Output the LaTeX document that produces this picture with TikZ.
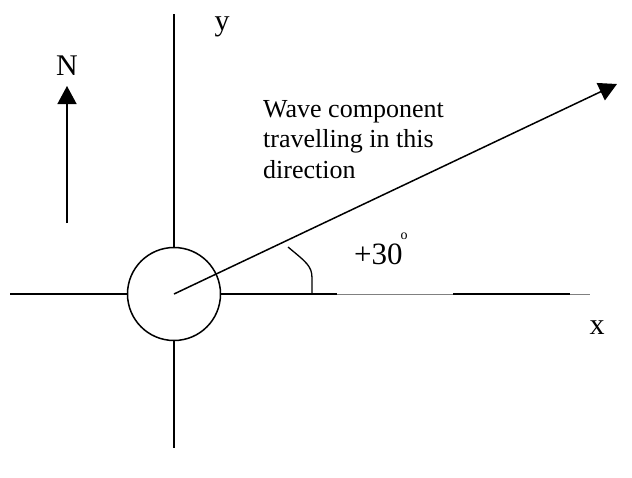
\documentclass[tikz,border=0pt]{standalone}
\usepackage{fontspec}
\setmainfont{Liberation Serif}
\usetikzlibrary{arrows.meta,positioning}

\begin{document}
\begin{tikzpicture}[x=1pt,y=-1pt,
  axis/.style={line width=1.5pt},
  faint/.style={line width=0.8pt,gray},
  lbl/.style={inner sep=0pt,font=\fontsize{30}{34}\selectfont},
  tip/.style={-{Triangle[length=18pt,width=19pt]}}]
\useasboundingbox (0,0) rectangle (632,477);

% hub and axes
\node[draw,circle,line width=1.5pt,minimum size=93pt,inner sep=0pt] (hub) at (174,294) {};
\coordinate (ytop) at (174,14);
\coordinate (ybot) at (174,448);
\coordinate (xl) at (10,294);
\coordinate (xa) at (337,294);
\coordinate (xb) at (453,294);
\coordinate (xc) at (570,294);
\coordinate (xd) at (590,294);
\draw[axis] (ytop) -- (hub.north);
\draw[axis] (hub.south) -- (ybot);
\draw[axis] (xl) -- (hub.west);
\draw[axis] (hub.east) -- (xa);
\draw[faint] (xa) -- (xb);
\draw[axis] (xb) -- (xc);
\draw[faint] (xc) -- (xd);

\node[lbl,anchor=base] (ylbl) at (222,30) {y};
\node[lbl,anchor=base] (xlbl) at (597,334) {x};

% north arrow
\coordinate (nbot) at (67,223);
\coordinate (ntop) at (67,86);
\draw[axis,tip] (nbot) -- (ntop);
\node[lbl,anchor=base] (nlbl) at (67,75) {N};

% wave direction
\coordinate (wtip) at (617,84);
\draw[axis,tip] (hub.center) -- (wtip);
\node[inner sep=0pt,anchor=north west,align=left,
  font=\fontsize{26}{30.5}\selectfont] (wtxt) at (263,100)
  {Wave component\\travelling in this\\direction};

% angle
\coordinate (a1) at (288,247);
\coordinate (a2) at (312,294);
\draw[line width=1.3pt] (a1) .. controls (306,262) and (312,266) .. (312,278) -- (a2);
\node[lbl,anchor=base west,font=\fontsize{31}{35}\selectfont] (ang) at (354,264) {+30};
\node[inner sep=0pt,font=\fontsize{14}{16}\selectfont] (deg) at (404,236) {o};
\end{tikzpicture}
\end{document}
